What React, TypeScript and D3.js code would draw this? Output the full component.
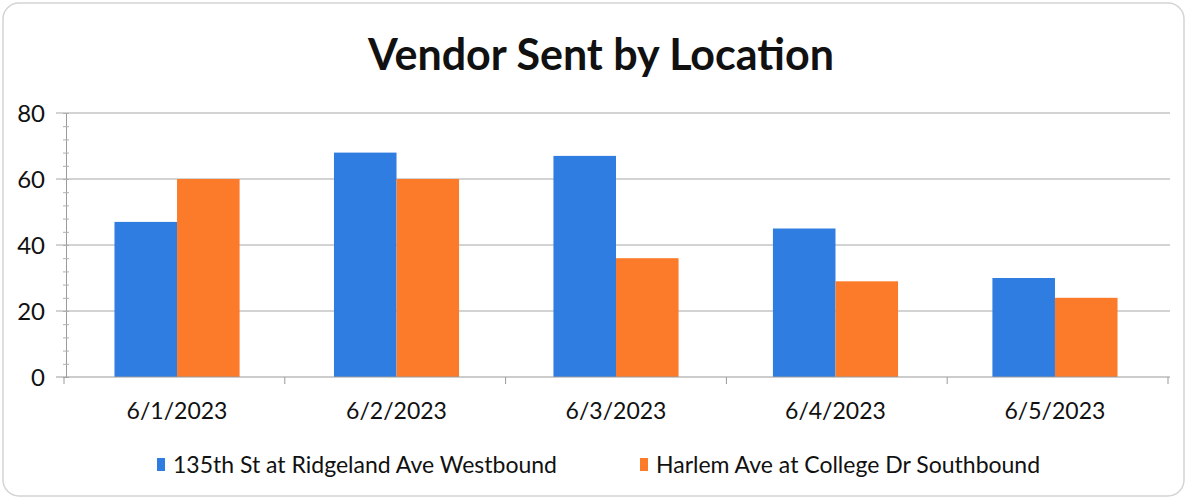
import React, { useEffect, useRef } from "react";
import * as d3 from "d3";

const dates = ["6/1/2023", "6/2/2023", "6/3/2023", "6/4/2023", "6/5/2023"];
const seriesNames = [
  "135th St at Ridgeland Ave Westbound",
  "Harlem Ave at College Dr Southbound",
];
const ridgeland = [47, 68, 67, 45, 30];
const harlem = [60, 60, 36, 29, 24];
const colors = ["#2F7DE1", "#FC7B2A"];
const yTicks = [0, 20, 40, 60, 80];

const width = 1187;
const height = 501;
const left = 64;
const right = 1168;
const top = 113;
const bottom = 377;
const font = "Lato, 'Open Sans', sans-serif";

const App = () => {
  const ref = useRef<SVGSVGElement>(null);

  useEffect(() => {
    let svg = d3.select(ref.current);
    svg.selectAll("*").remove();

    // frame
    svg
      .append("rect")
      .attr("x", 3)
      .attr("y", 3)
      .attr("width", width - 6)
      .attr("height", height - 8)
      .attr("rx", 16)
      .attr("fill", "#fff")
      .attr("stroke", "#d4d4d4")
      .attr("stroke-width", 1.5);

    svg
      .append("text")
      .attr("x", 601)
      .attr("y", 70)
      .attr("text-anchor", "middle")
      .attr("font-family", font)
      .attr("font-weight", "bold")
      .attr("font-size", 43)
      .attr("fill", "#111")
      .text("Vendor Sent by Location");

    let xScale = d3
      .scaleBand()
      .domain(dates)
      .range([left, right])
      .paddingInner(0.43)
      .paddingOuter(0.23);

    let inner = d3
      .scaleBand()
      .domain(seriesNames)
      .range([0, xScale.bandwidth()]);

    let yScale = d3.scaleLinear().domain([0, 80]).range([bottom, top]);

    // gridlines
    svg
      .append("g")
      .selectAll("line")
      .data(yTicks.slice(1))
      .enter()
      .append("line")
      .attr("x1", left - 8)
      .attr("x2", right + 2)
      .attr("y1", (d) => yScale(d))
      .attr("y2", (d) => yScale(d))
      .attr("stroke", "#a8a8a8")
      .attr("stroke-width", 1.2);

    // y axis with minor ticks
    let yAxis = d3
      .axisLeft(yScale)
      .tickValues(d3.range(0, 81, 4))
      .tickSize(3)
      .tickFormat(() => "");
    let yg = svg
      .append("g")
      .attr("transform", "translate(" + (left + 2) + ",0)")
      .call(yAxis);
    yg.selectAll("path").attr("stroke", "#9a9a9a");
    yg.selectAll("line").attr("stroke", "#b0b0b0").attr("x2", -3).attr("x1", 3);

    svg
      .append("g")
      .selectAll("text")
      .data(yTicks)
      .enter()
      .append("text")
      .attr("x", 45)
      .attr("y", (d) => yScale(d) + 9)
      .attr("text-anchor", "end")
      .attr("font-family", font)
      .attr("font-size", 24)
      .attr("fill", "#111")
      .text((d) => d);

    // bars
    let data = [ridgeland, harlem];
    data.forEach((values, s) => {
      svg
        .append("g")
        .selectAll("rect")
        .data(values)
        .enter()
        .append("rect")
        .attr("x", (d, i) => xScale(dates[i])! + inner(seriesNames[s])!)
        .attr("width", inner.bandwidth())
        .attr("y", (d) => yScale(d))
        .attr("height", (d) => bottom - yScale(d))
        .attr("fill", colors[s]);
    });

    // x axis
    svg
      .append("line")
      .attr("x1", left - 8)
      .attr("x2", right + 2)
      .attr("y1", bottom)
      .attr("y2", bottom)
      .attr("stroke", "#9a9a9a")
      .attr("stroke-width", 1.2);

    let boundaries = d3.range(dates.length + 1).map((i) => left + i * (right - left) / dates.length);
    svg
      .append("g")
      .selectAll("line")
      .data(boundaries)
      .enter()
      .append("line")
      .attr("x1", (d) => d)
      .attr("x2", (d) => d)
      .attr("y1", bottom)
      .attr("y2", bottom + 7)
      .attr("stroke", "#9a9a9a");

    svg
      .append("g")
      .selectAll("text")
      .data(dates)
      .enter()
      .append("text")
      .attr("x", (d) => xScale(d)! + xScale.bandwidth() / 2)
      .attr("y", 419)
      .attr("text-anchor", "middle")
      .attr("font-family", font)
      .attr("font-size", 23)
      .attr("fill", "#111")
      .text((d) => d);

    // legend
    let legendX = [157, 640];
    seriesNames.forEach((name, i) => {
      let g = svg.append("g").attr("transform", "translate(" + legendX[i] + ",0)");
      g.append("rect")
        .attr("x", 0)
        .attr("y", 458)
        .attr("width", 8)
        .attr("height", 13)
        .attr("fill", colors[i]);
      g.append("text")
        .attr("x", 16)
        .attr("y", 473)
        .attr("font-family", font)
        .attr("font-size", 23)
        .attr("fill", "#111")
        .text(name);
    });
  }, []);

  return (
    <svg
      ref={ref}
      width={width}
      height={height}
      style={{ position: "absolute", left: 0, top: 0 }}
    ></svg>
  );
};

export default App;
